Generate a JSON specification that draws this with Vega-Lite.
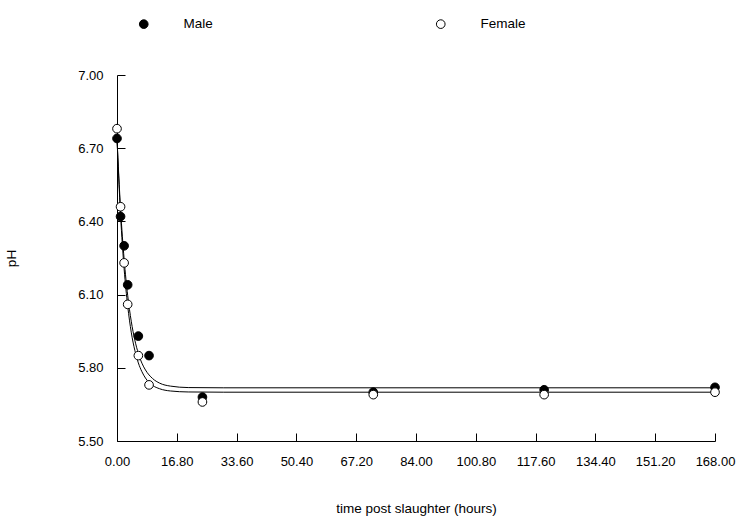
{
  "$schema": "https://vega.github.io/schema/vega-lite/v6.json",
  "width": 598,
  "height": 366,
  "autosize": {"type": "none"},
  "padding": {"left": 117, "top": 75, "right": 22, "bottom": 77},
  "background": "white",
  "config": {
    "view": {"stroke": null},
    "font": "Liberation Sans",
    "axis": {"grid": false, "domainColor": "black", "tickColor": "black", "labelColor": "black", "titleColor": "black", "labelFont": "Liberation Sans", "titleFont": "Liberation Sans", "labelFontSize": 13, "titleFontSize": 13.5, "titleFontWeight": "normal", "labelFlush": false},
    "legend": {"labelFont": "Liberation Sans", "labelFontSize": 13.5, "labelColor": "black"}
  },
  "datasets": {
    "obs": [
      {"t": 0, "pH": 6.74, "sex": "Male"},
      {"t": 1, "pH": 6.42, "sex": "Male"},
      {"t": 2, "pH": 6.30, "sex": "Male"},
      {"t": 3, "pH": 6.14, "sex": "Male"},
      {"t": 6, "pH": 5.93, "sex": "Male"},
      {"t": 9, "pH": 5.85, "sex": "Male"},
      {"t": 24, "pH": 5.68, "sex": "Male"},
      {"t": 72, "pH": 5.70, "sex": "Male"},
      {"t": 120, "pH": 5.71, "sex": "Male"},
      {"t": 168, "pH": 5.72, "sex": "Male"},
      {"t": 0, "pH": 6.78, "sex": "Female"},
      {"t": 1, "pH": 6.46, "sex": "Female"},
      {"t": 2, "pH": 6.23, "sex": "Female"},
      {"t": 3, "pH": 6.06, "sex": "Female"},
      {"t": 6, "pH": 5.85, "sex": "Female"},
      {"t": 9, "pH": 5.73, "sex": "Female"},
      {"t": 24, "pH": 5.66, "sex": "Female"},
      {"t": 72, "pH": 5.69, "sex": "Female"},
      {"t": 120, "pH": 5.69, "sex": "Female"},
      {"t": 168, "pH": 5.70, "sex": "Female"}
    ],
    "fit": [
      {"t": 0, "y": 6.738, "sex": "Male"},
      {"t": 1, "y": 6.451, "sex": "Male"},
      {"t": 2, "y": 6.245, "sex": "Male"},
      {"t": 3, "y": 6.097, "sex": "Male"},
      {"t": 4, "y": 5.991, "sex": "Male"},
      {"t": 5, "y": 5.914, "sex": "Male"},
      {"t": 6, "y": 5.859, "sex": "Male"},
      {"t": 7, "y": 5.819, "sex": "Male"},
      {"t": 8, "y": 5.791, "sex": "Male"},
      {"t": 10, "y": 5.756, "sex": "Male"},
      {"t": 12, "y": 5.737, "sex": "Male"},
      {"t": 15, "y": 5.725, "sex": "Male"},
      {"t": 20, "y": 5.719, "sex": "Male"},
      {"t": 30, "y": 5.718, "sex": "Male"},
      {"t": 168, "y": 5.718, "sex": "Male"},
      {"t": 0, "y": 6.74, "sex": "Female"},
      {"t": 1, "y": 6.426, "sex": "Female"},
      {"t": 2, "y": 6.206, "sex": "Female"},
      {"t": 3, "y": 6.054, "sex": "Female"},
      {"t": 4, "y": 5.946, "sex": "Female"},
      {"t": 5, "y": 5.872, "sex": "Female"},
      {"t": 6, "y": 5.820, "sex": "Female"},
      {"t": 7, "y": 5.784, "sex": "Female"},
      {"t": 8, "y": 5.758, "sex": "Female"},
      {"t": 10, "y": 5.728, "sex": "Female"},
      {"t": 12, "y": 5.714, "sex": "Female"},
      {"t": 15, "y": 5.705, "sex": "Female"},
      {"t": 20, "y": 5.701, "sex": "Female"},
      {"t": 30, "y": 5.700, "sex": "Female"},
      {"t": 168, "y": 5.700, "sex": "Female"}
    ]
  },
  "layer": [
    {
      "data": {"name": "fit"},
      "mark": {"type": "line", "color": "black", "strokeWidth": 1, "interpolate": "monotone", "clip": false},
      "encoding": {
        "x": {"field": "t", "type": "quantitative", "scale": {"domain": [0, 168], "nice": false, "zero": false},
          "axis": {"values": [0, 16.8, 33.6, 50.4, 67.2, 84, 100.8, 117.6, 134.4, 151.2, 168], "format": ".2f", "title": "time post slaughter (hours)", "tickSize": -8, "labelPadding": 22, "titlePadding": 33, "domainWidth": 1}},
        "y": {"field": "y", "type": "quantitative", "scale": {"domain": [5.5, 7.0], "nice": false, "zero": false},
          "axis": {"values": [5.5, 5.8, 6.1, 6.4, 6.7, 7.0], "format": ".2f", "title": "pH", "tickSize": -8, "labelPadding": 22, "titlePadding": 59, "domainWidth": 1}},
        "detail": {"field": "sex"},
        "order": {"field": "t", "type": "quantitative"}
      }
    },
    {
      "data": {"name": "obs"},
      "mark": {"type": "point", "shape": "circle", "filled": true, "stroke": "black", "strokeWidth": 1, "size": 75, "opacity": 1},
      "encoding": {
        "x": {"field": "t", "type": "quantitative"},
        "y": {"field": "pH", "type": "quantitative"},
        "fill": {"field": "sex", "type": "nominal", "scale": {"domain": ["Male", "Female"], "range": ["black", "white"]},
          "legend": {"title": null, "orient": "none", "direction": "horizontal", "legendX": 20, "legendY": -58, "labelOffset": 33, "columnPadding": 221, "symbolStrokeColor": "black", "symbolStrokeWidth": 1, "symbolSize": 75, "symbolOpacity": 1}}
      }
    }
  ]
}
